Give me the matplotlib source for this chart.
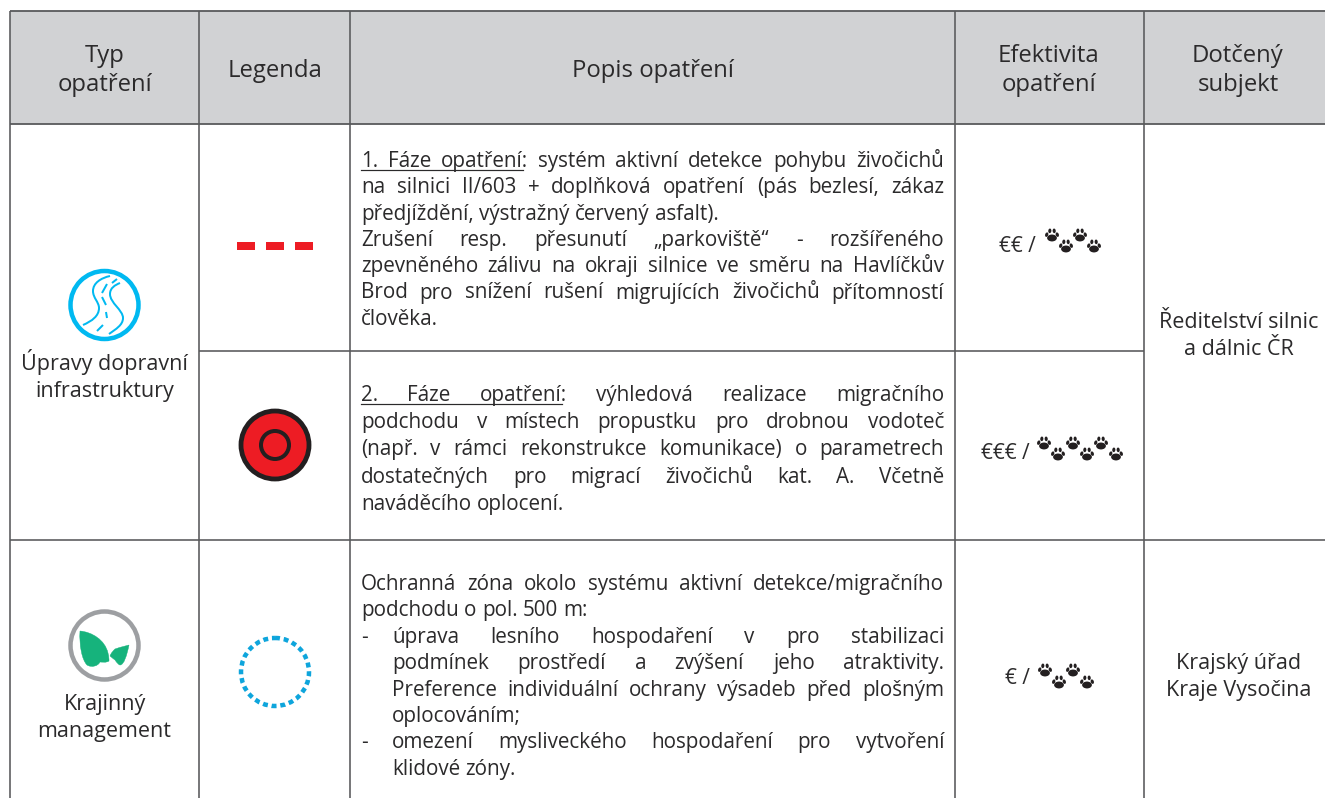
import matplotlib
matplotlib.use('Agg')
import matplotlib.pyplot as plt
from matplotlib.patches import Rectangle, Circle, Ellipse, PathPatch
from matplotlib.path import Path

W, H = 1325, 798
fontName = 'Open Sans'
darkText = '#2b2a2b'
gridCol = '#58595b'

# table content
headers = [(104.5, ['Typ', 'opatření']), (275, ['Legenda']), (653, ['Popis opatření']),
           (1049, ['Efektivita', 'opatření']), (1238, ['Dotčený', 'subjekt'])]
types = [(104.5, 362, ['Úpravy dopravní', 'infrastruktury']), (104.5, 702, ['Krajinný', 'management'])]
subjects = [(1239, 320, ['Ředitelství silnic', 'a dálnic ČR']), (1239, 661, ['Krajský úřad', 'Kraje Vysočina'])]
efficiency = [('€€ /', 1036, 245), ('€€€ /', 1030, 452), ('€ /', 1030, 677)]

# (text, justified, indent)
row1 = [('1. Fáze opatření: systém aktivní detekce pohybu živočichů', True, 0),
        ('na silnici II/603 + doplňková opatření (pás bezlesí, zákaz', True, 0),
        ('předjíždění, výstražný červený asfalt).', False, 0),
        ('Zrušení resp. přesunutí „parkoviště“ - rozšířeného', True, 0),
        ('zpevněného zálivu na okraji silnice ve směru na Havlíčkův', True, 0),
        ('Brod pro snížení rušení migrujících živočichů přítomností', True, 0),
        ('člověka.', False, 0)]
row2 = [('2. Fáze opatření: výhledová realizace migračního', True, 0),
        ('podchodu v místech propustku pro drobnou vodoteč', True, 0),
        ('(např. v rámci rekonstrukce komunikace) o parametrech', True, 0),
        ('dostatečných pro migrací živočichů kat. A. Včetně', True, 0),
        ('naváděcího oplocení.', False, 0)]
row3 = [('Ochranná zóna okolo systému aktivní detekce/migračního', True, 0),
        ('podchodu o pol. 500 m:', False, 0),
        ('úprava lesního hospodaření v pro stabilizaci', True, 1),
        ('podmínek prostředí a zvýšení jeho atraktivity.', True, 2),
        ('Preference individuální ochrany výsadeb před plošným', True, 2),
        ('oplocováním;', False, 2),
        ('omezení mysliveckého hospodaření pro vytvoření', True, 1),
        ('klidové zóny.', False, 2)]

fig = plt.figure(figsize=(W / 100.0, H / 100.0), dpi=100)
ax = fig.add_axes([0, 0, 1, 1])
ax.set_xlim(0, W)
ax.set_ylim(H, 0)
ax.axis('off')
rend = fig.canvas.get_renderer()


def px(v):
    return v * 0.72


def centered(x, y, lines, size, pitch):
    for i, s in enumerate(lines):
        ax.text(x, y + i * pitch + 8, s, ha='center', va='baseline', fontsize=size,
                family=fontName, color=darkText)


def wordWidth(s, size):
    t = ax.text(0, 0, s, fontsize=size, family=fontName)
    w = t.get_window_extent(rend).width
    t.remove()
    return w


def paragraph(lines, yStart, pitch=26.3, size=14.9, underline=0):
    x0, x1 = 361.0, 944.0
    for i, (s, just, ind) in enumerate(lines):
        y = yStart + i * pitch + 8
        left = x0 if ind == 0 else 392.0
        if ind == 1:
            ax.text(x0, y, '-', fontsize=size, family=fontName, color=darkText, va='baseline')
        words = s.split(' ')
        widths = [wordWidth(w, size) for w in words]
        natural = wordWidth('a a', size) - 2 * wordWidth('a', size)
        if just and len(words) > 1:
            gap = (x1 - left - sum(widths)) / (len(words) - 1)
        else:
            gap = natural
        x = left
        for k, (w, wd) in enumerate(zip(words, widths)):
            ax.text(x, y, w, fontsize=size, family=fontName, color=darkText, va='baseline')
            if i == 0 and k == underline and underline:
                uw = wordWidth(w.rstrip(':'), size)
                ax.plot([left, x + uw], [y + 3, y + 3], color=darkText, lw=px(1.2))
            x += wd + gap


def paw(cx, cy, s=1.15):
    c = '#231f20'
    ax.add_patch(Ellipse((cx, cy + 2.6 * s), 8.5 * s, 6.0 * s, color=c, lw=0))
    for dx, dy, ang in [(-4.6, -0.3, 20), (-1.9, -3.6, 5), (1.9, -3.6, -5), (4.6, -0.3, -20)]:
        ax.add_patch(Ellipse((cx + dx * s, cy + dy * s), 2.7 * s, 4.0 * s, angle=ang, color=c, lw=0))


def bezier(start, segs, color, lw):
    verts = [start]
    codes = [Path.MOVETO]
    for seg in segs:
        verts += seg
        codes += [Path.CURVE4] * 3
    ax.add_patch(PathPatch(Path(verts, codes), fill=False, edgecolor=color, lw=lw, capstyle='butt'))


def leaf(start, segs, color):
    verts = [start]
    codes = [Path.MOVETO]
    for seg in segs:
        verts += seg
        codes += [Path.CURVE4] * 3
    ax.add_patch(PathPatch(Path(verts, codes), facecolor=color, edgecolor=color, lw=0.3))


# header band and grid
ax.add_patch(Rectangle((10, 11), W - 10, 113, color='#d1d2d4', lw=0))
for x in [10, 199, 350, 955, 1144]:
    ax.plot([x, x], [11, H], color=gridCol, lw=px(1.6), solid_capstyle='butt')
ax.plot([10, W], [11, 11], color=gridCol, lw=px(1.8), solid_capstyle='butt')
ax.plot([10, W], [124, 124], color=gridCol, lw=px(1.8), solid_capstyle='butt')
ax.plot([199, 1144], [351, 351], color=gridCol, lw=px(1.6), solid_capstyle='butt')
ax.plot([10, W], [540, 540], color=gridCol, lw=px(1.6), solid_capstyle='butt')

# texts
for x, lines in headers:
    centered(x, 54 if len(lines) == 2 else 69, lines, 17.2, 29)
for x, y, lines in types + subjects:
    centered(x, y, lines, 15.5, 27)
paragraph(row1, 159, underline=2)
paragraph(row2, 393, pitch=27.2, underline=2)
paragraph(row3, 582, pitch=26.4)

# efficiency column
for s, xr, y in efficiency:
    ax.text(xr, y + 7, s, ha='right', va='baseline', fontsize=15, family=fontName, color=darkText)
for x, y in [(1052, 235), (1066, 246), (1080, 235), (1094, 246)]:
    paw(x, y)
for x, y in [(1044, 443), (1058, 454), (1073, 443), (1087, 454), (1101, 443), (1116, 454)]:
    paw(x, y)
for x, y in [(1045, 670), (1059, 682), (1073, 670), (1087, 682)]:
    paw(x, y)

# legend symbols
for x in [237, 266, 295]:
    ax.add_patch(Rectangle((x, 242), 18, 8, color='#ed1c24', lw=0))
ax.add_patch(Circle((275, 445), 34, facecolor='#ed1c24', edgecolor='#231f20', lw=px(4.8)))
ax.add_patch(Circle((275, 445), 14, facecolor='#ed1c24', edgecolor='#231f20', lw=px(4)))
ax.add_patch(Circle((275, 672), 34, fill=False, edgecolor='#0ea5dc', lw=px(4.5), linestyle=(0, (1.1, 0.85))))

# road icon
roadCol = '#00b9f1'
ax.add_patch(Circle((104.5, 305), 34, fill=False, edgecolor=roadCol, lw=px(4.5)))
bezier((83, 325), [[(92, 321), (99, 316), (99, 308)], [(99, 302), (93, 298), (93, 291)],
                   [(93, 283), (101, 278), (110, 276)]], roadCol, px(2))
bezier((109, 334), [[(116, 329), (123, 325), (123, 318)], [(123, 310), (110, 303), (110, 294)],
                    [(110, 288), (115, 285), (120, 283)]], roadCol, px(2))
for (a, b) in [((97, 331), (103, 325)), ((107, 318), (106, 312)), ((106, 305), (102, 297)),
               ((102, 293), (107, 284)), ((112, 283), (117, 279))]:
    ax.plot([a[0], b[0]], [a[1], b[1]], color=roadCol, lw=px(2), solid_capstyle='butt')

# leaf icon
ax.add_patch(Circle((104.5, 645.5), 34, fill=False, edgecolor='#9d9fa2', lw=px(4.5)))
leafCol = '#16b37c'
leaf((80, 631), [[(92, 632), (105, 640), (108, 653)], [(109, 657), (109, 659), (109, 661)],
                 [(106, 663), (102, 662), (100, 662)], [(98, 666), (92, 668), (87, 665)],
                 [(82, 660), (79, 645), (80, 631)]], leafCol)
leaf((129, 645), [[(122, 647), (117, 648), (115, 649)], [(113, 651), (111, 653), (110, 656)],
                  [(112, 658), (114, 659), (115, 660)], [(117, 663), (119, 665), (120, 665)],
                  [(124, 665), (127, 655), (129, 645)]], leafCol)

fig.savefig('out.png', dpi=100)
